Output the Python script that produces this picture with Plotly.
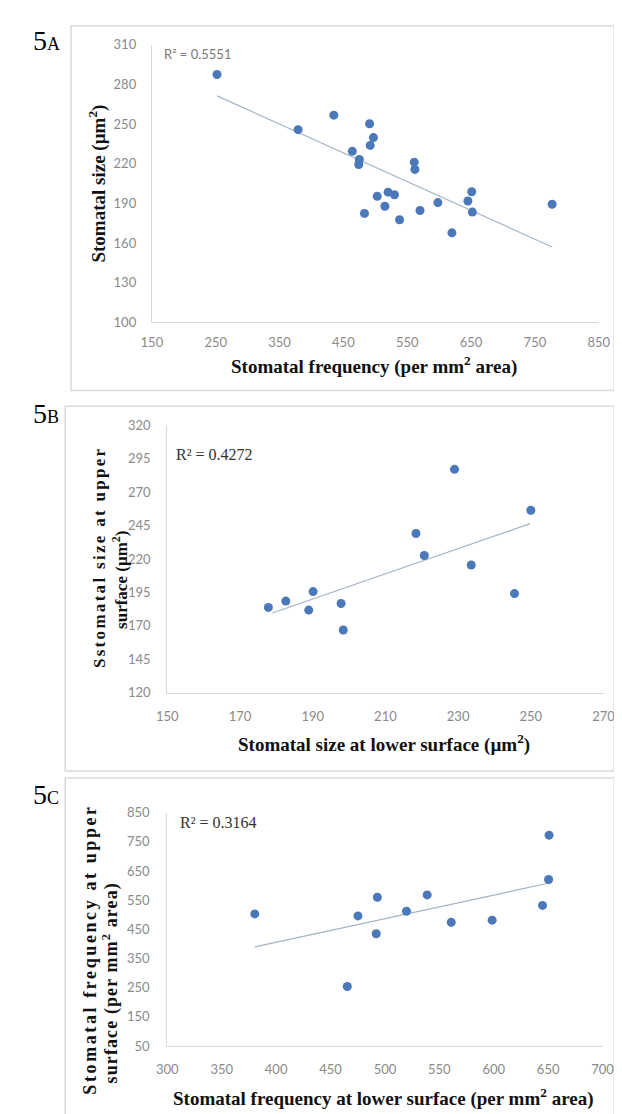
import plotly.graph_objects as go

W, H = 622, 1114

# ---------------- data ----------------
# Panel 5A: stomatal frequency vs stomatal size
a_freq = [252, 379, 435, 464, 475, 474, 491, 497, 492, 483, 503, 515,
          520, 530, 538, 561, 562, 570, 598, 620, 645, 651, 652, 777]
a_size = [287.6, 245.8, 256.8, 229.4, 223.2, 219.4, 250.3, 239.8, 233.9, 182.4, 195.3, 187.8,
          198.5, 196.5, 177.6, 221.2, 215.7, 184.6, 190.6, 167.7, 191.8, 198.8, 183.4, 189.3]
a_trend_x = [252, 777]
a_trend_y = [271.4, 157.0]
a_r2 = "R² = 0.5551"

# Panel 5B: size lower vs size upper
b_lower = [177.8, 182.6, 188.9, 190.1, 197.8, 198.4, 218.4, 220.7, 229.0, 233.6, 245.5, 250.0]
b_upper = [183.8, 188.5, 181.8, 195.6, 186.7, 166.9, 239.0, 222.6, 286.9, 215.5, 194.1, 256.4]
b_trend_x = [178.9, 249.8]
b_trend_y = [179.6, 246.4]
b_r2 = "R² = 0.4272"

# Panel 5C: frequency lower vs frequency upper
c_lower = [380.4, 465.4, 475.2, 492.0, 493.0, 519.8, 538.8, 560.9, 598.5, 644.8, 650.4, 650.8]
c_upper = [503, 254, 496, 435, 560, 512, 568, 474, 481.5, 532, 621, 773]
c_trend_x = [380.4, 650.0]
c_trend_y = [390, 608]
c_r2 = "R² = 0.3164"

# axis ranges / ticks
a_xrange, a_xdtick, a_yrange, a_ydtick = [150, 850], 100, [100, 310], 30
b_xrange, b_xdtick, b_yrange, b_ydtick = [150, 270], 20, [120, 320], 25
c_xrange, c_xdtick, c_yrange, c_ydtick = [300, 700], 50, [50, 850], 100

# ---------------- styling ----------------
DOT = "#4A78B8"
TREND = "#A3B3C6"
AXLINE = "#D9D9D9"
TICKCOL = "#8A8A8A"
FRAME = "#DADADA"
SERIF = "Liberation Serif, Times New Roman, serif"
SANS = "Lato, Carlito, Calibri, sans-serif"


def px(x):
    return x / W


def py(y):
    return 1 - y / H


fig = go.Figure()

panels = [
    dict(x=a_freq, y=a_size, tx=a_trend_x, ty=a_trend_y, xa="x", ya="y",
         xdom=[138, 602], ydom=[29.3, 310.7], xr=a_xrange, xd=a_xdtick, yr=a_yrange, yd=a_ydtick,
         xso=8, yso=12),
    dict(x=b_lower, y=b_upper, tx=b_trend_x, ty=b_trend_y, xa="x2", ya="y2",
         xdom=[154, 607], ydom=[415, 686.7], xr=b_xrange, xd=b_xdtick, yr=b_yrange, yd=b_ydtick,
         xso=11, yso=13),
    dict(x=c_lower, y=c_upper, tx=c_trend_x, ty=c_trend_y, xa="x3", ya="y3",
         xdom=[154, 606], ydom=[808.3, 1045], xr=c_xrange, xd=c_xdtick, yr=c_yrange, yd=c_ydtick,
         xso=11, yso=14),
]

layout_axes = {}
for i, p in enumerate(panels):
    fig.add_trace(go.Scatter(x=p["tx"], y=p["ty"], mode="lines", xaxis=p["xa"], yaxis=p["ya"],
                             line=dict(color=TREND, width=1.2), showlegend=False, hoverinfo="skip"))
    fig.add_trace(go.Scatter(x=p["x"], y=p["y"], mode="markers", xaxis=p["xa"], yaxis=p["ya"],
                             marker=dict(color=DOT, size=9, line=dict(width=0)), showlegend=False))
    suffix = "" if i == 0 else str(i + 1)
    common = dict(showgrid=False, zeroline=False, showline=True, linecolor=AXLINE, linewidth=1.2,
                  ticks="", tickfont=dict(family=SANS, size=13, color=TICKCOL))
    layout_axes["xaxis" + suffix] = dict(
        domain=[px(p["xdom"][0]), px(p["xdom"][1])], range=p["xr"], dtick=p["xd"], tick0=p["xr"][0],
        anchor="y" + suffix, ticklabelstandoff=p["xso"], **common)
    layout_axes["yaxis" + suffix] = dict(
        domain=[py(p["ydom"][1]), py(p["ydom"][0])], range=p["yr"], dtick=p["yd"], tick0=p["yr"][0],
        anchor="x" + suffix, ticklabelstandoff=p["yso"], **common)

fig.update_layout(**layout_axes)

# frames around each panel
frames = [(54, 10, 618, 380), (48, 396, 618, 766), (48, 773, 618, 1120)]
shapes = []
for x0, y0, x1, y1 in frames:
    shapes.append(dict(type="rect", xref="paper", yref="paper", x0=px(x0), x1=px(x1), y0=py(y1), y1=py(y0),
                       line=dict(color=FRAME, width=1.5), fillcolor="rgba(0,0,0,0)", layer="below"))

ann = []


def add_text(text, x, y, size, family=SERIF, color="#111111", angle=0, xanchor="center", bold=False,
             spacing=None):
    t = text
    if spacing:
        t = f"<span style='letter-spacing:{spacing}px'>{t}</span>"
    if bold:
        t = f"<b>{t}</b>"
    ann.append(dict(text=t, x=px(x), y=py(y), xref="paper", yref="paper", showarrow=False,
                    xanchor=xanchor, yanchor="middle", textangle=angle,
                    font=dict(family=family, size=size, color=color)))


# panel labels
for lab, yy in [("A", 25), ("B", 403), ("C", 790)]:
    add_text(f"5<span style='font-size:18px'>{lab}</span>", 12, yy, 28, xanchor="left", color="#000000")

# R² labels
add_text(a_r2, 149, 39, 13, family=SANS, color="#7A7A7A", xanchor="left")
add_text(b_r2, 161, 445, 16, family=SERIF, color="#333333", xanchor="left")
add_text(c_r2, 165, 818, 16, family=SERIF, color="#333333", xanchor="left")

# axis titles
add_text("Stomatal frequency (per mm<sup>2</sup> area)", 369, 355, 19, bold=True)
add_text("Stomatal size (µm<sup>2</sup>)", 82, 170, 19, angle=-90, bold=True)

add_text("Stomatal size at lower surface (µm<sup>2</sup>)", 379, 738, 19, bold=True)
add_text("Sstomatal size at upper", 83, 549, 17, angle=-90, bold=True, spacing=2.3)
add_text("surface (µm<sup>2</sup>)", 105, 572, 17, angle=-90, bold=True)

add_text("Stomatal frequency at lower surface (per mm<sup>2</sup> area)", 379, 1097, 19, bold=True)
add_text("Stomatal frequency at upper", 74, 947, 18, angle=-90, bold=True, spacing=2.6)
add_text("surface (per mm<sup>2</sup> area)", 95, 981, 18, angle=-90, bold=True, spacing=1.1)

fig.update_layout(width=W, height=H, margin=dict(l=0, r=0, t=0, b=0),
                  paper_bgcolor="white", plot_bgcolor="white",
                  shapes=shapes, annotations=ann, showlegend=False)

fig.write_html("out.html")
